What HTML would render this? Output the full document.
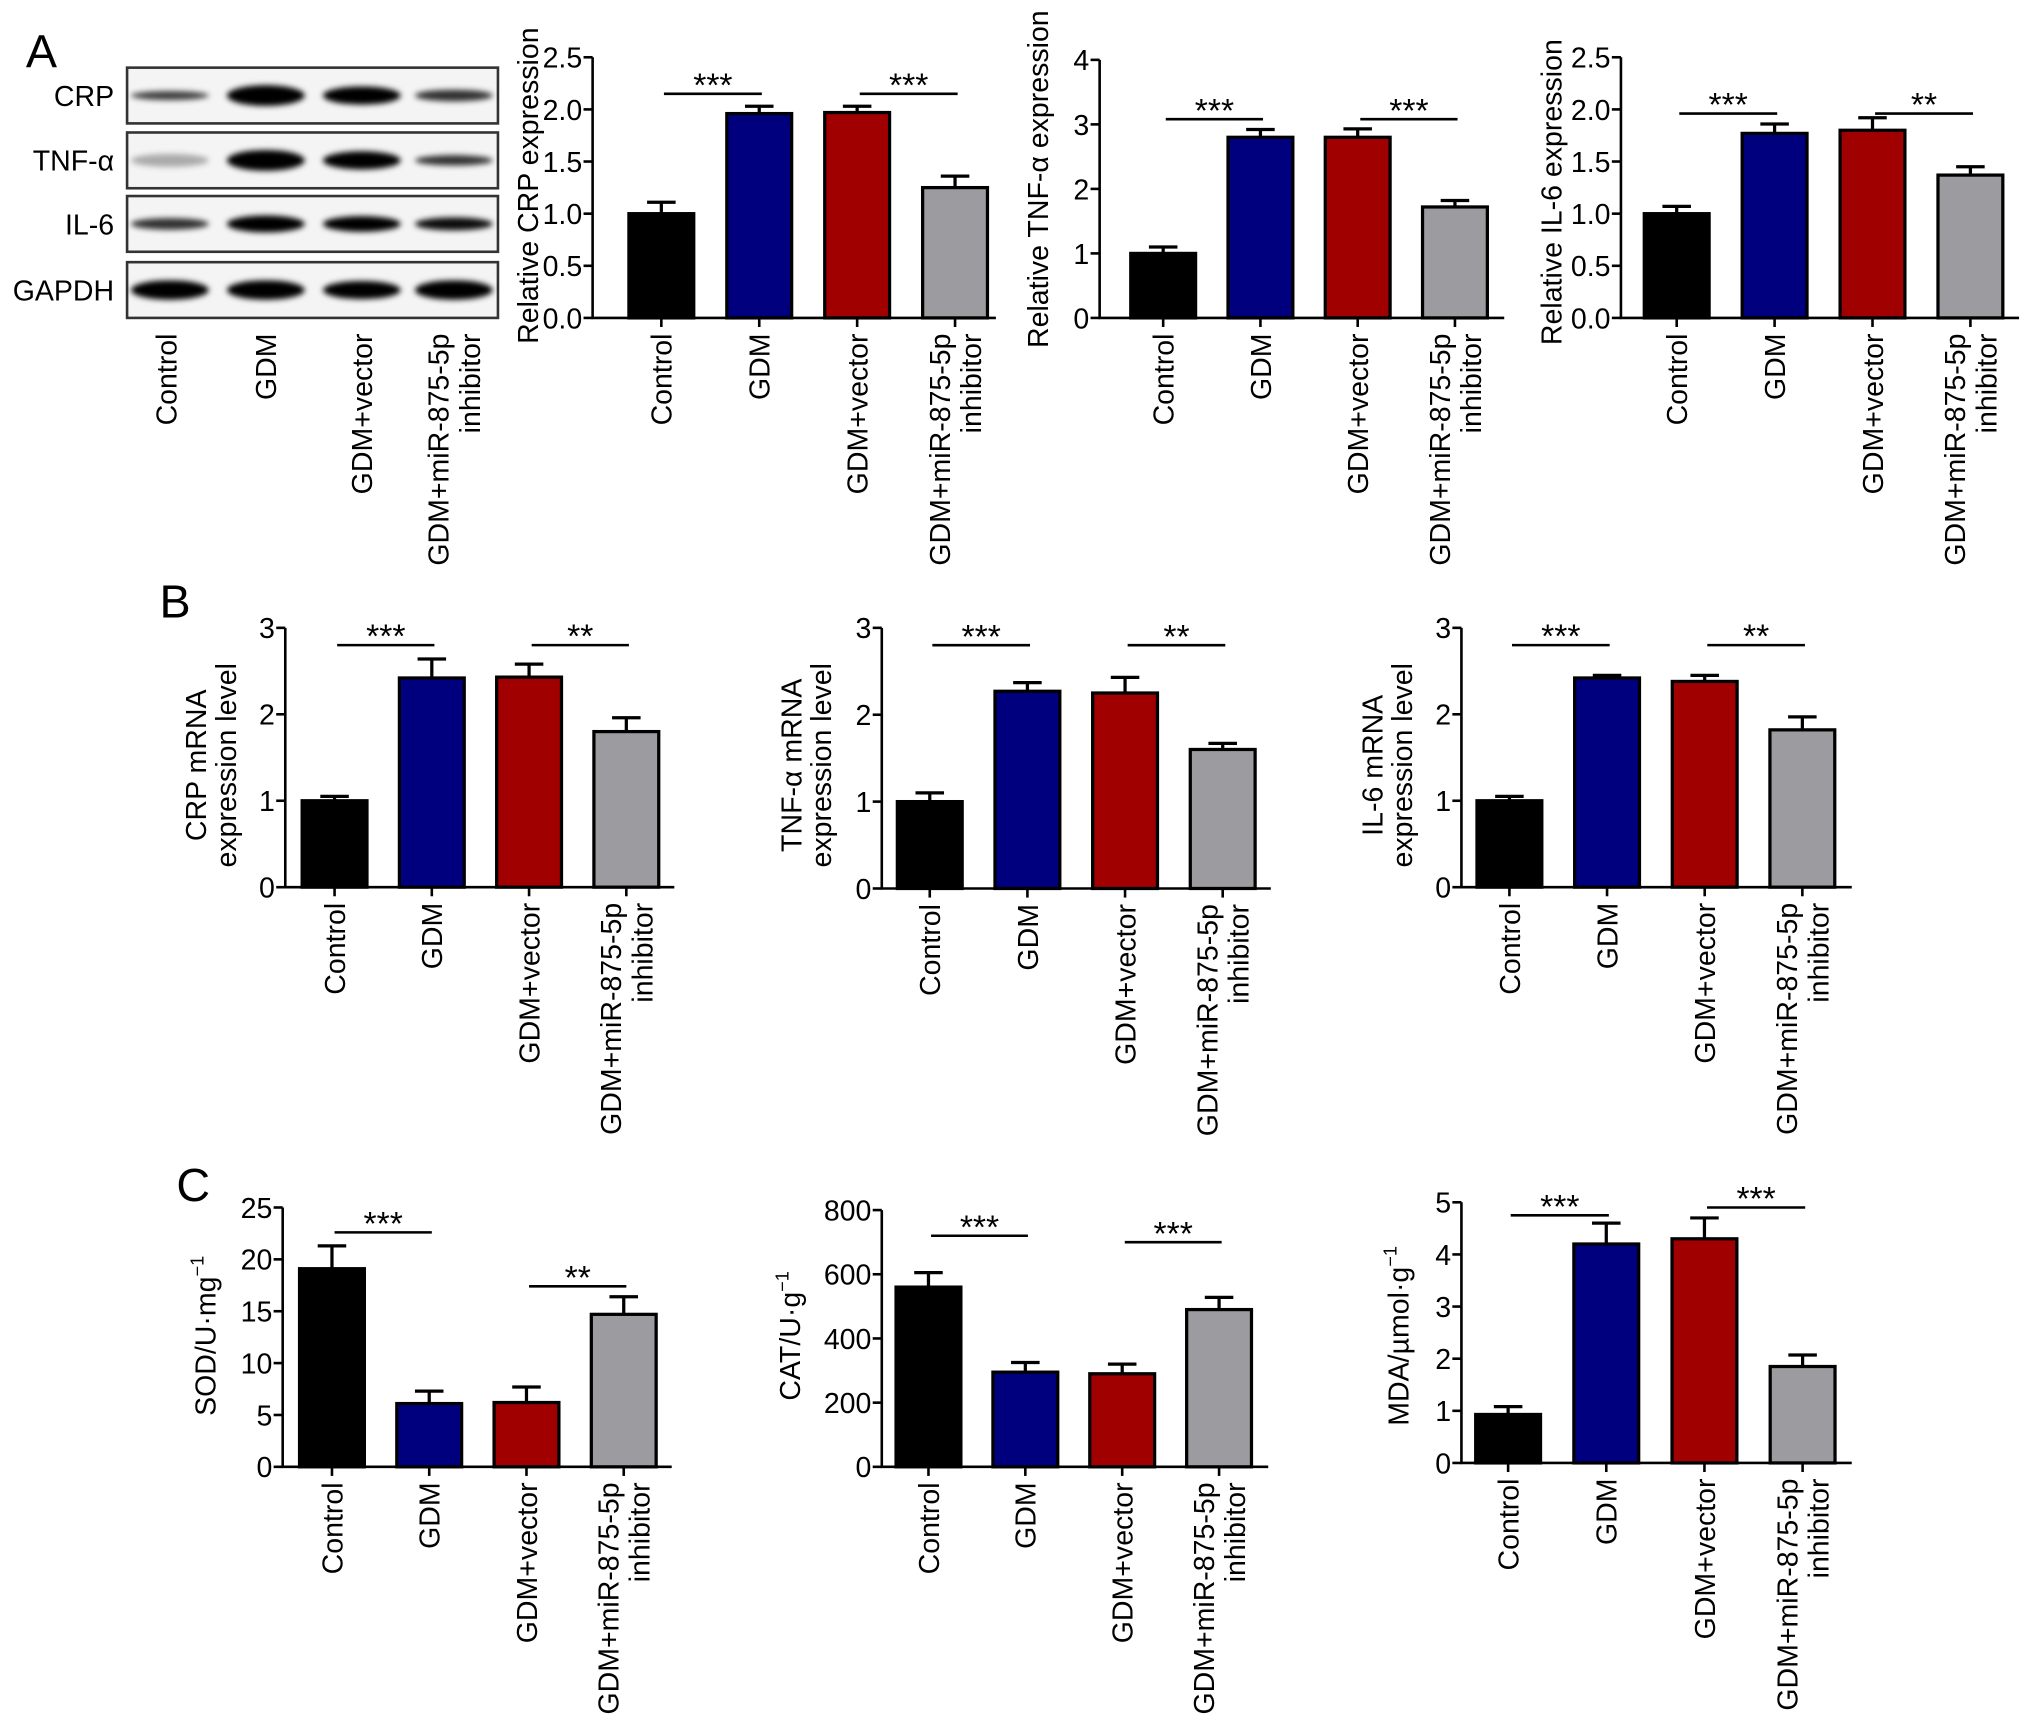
<!DOCTYPE html>
<html><head><meta charset="utf-8"><style>
html,body{margin:0;padding:0;background:#fff;}
svg{display:block;font-family:"Liberation Sans",Arial,sans-serif;}
</style></head><body>
<svg id="fig" width="2032" height="1729" viewBox="0 0 1567 1333" xmlns="http://www.w3.org/2000/svg">
<defs><filter id="blur" x="-30%" y="-100%" width="160%" height="300%"><feGaussianBlur stdDeviation="2.2"/></filter></defs>
<g id="blot"></g>
</svg>
<script>
const categories = ["Control","GDM","GDM+vector","GDM+miR-875-5p"];
const colors = ["#000000","#00007f","#a00000","#9b9ba0"];

// A1 CRP protein
const a1Values = [1.0,1.96,1.97,1.25];
const a1Errors = [0.11,0.07,0.06,0.11];
const a1Ticks = ["0.0","0.5","1.0","1.5","2.0","2.5"];
const a1Sig = ["***","***"];
const a1SigY = [2.15,2.15];
// A2 TNF protein
const a2Values = [1.0,2.8,2.8,1.72];
const a2Errors = [0.1,0.12,0.13,0.1];
const a2Ticks = ["0","1","2","3","4"];
const a2Sig = ["***","***"];
const a2SigY = [3.08,3.08];
// A3 IL-6 protein
const a3Values = [1.0,1.77,1.8,1.37];
const a3Errors = [0.07,0.09,0.12,0.08];
const a3Ticks = ["0.0","0.5","1.0","1.5","2.0","2.5"];
const a3Sig = ["***","**"];
const a3SigY = [1.96,1.96];
// B mRNA
const b1Values = [1.0,2.42,2.43,1.8];
const b1Errors = [0.05,0.22,0.15,0.16];
const b2Values = [1.0,2.27,2.25,1.6];
const b2Errors = [0.1,0.1,0.18,0.07];
const b3Values = [1.0,2.42,2.38,1.82];
const b3Errors = [0.05,0.03,0.07,0.15];
const bTicks = ["0","1","2","3"];
const bSig = ["***","**"];
const bSigY = [2.8,2.8];
// C oxidative
const c1Values = [19.1,6.1,6.2,14.7];
const c1Errors = [2.2,1.2,1.5,1.7];
const c1Ticks = ["0","5","10","15","20","25"];
const c1Sig = ["***","**"];
const c1SigY = [22.6,17.4];
const c2Values = [560,295,290,490];
const c2Errors = [45,30,30,38];
const c2Ticks = ["0","200","400","600","800"];
const c2Sig = ["***","***"];
const c2SigY = [720,700];
const c3Values = [0.93,4.2,4.3,1.85];
const c3Errors = [0.15,0.4,0.4,0.22];
const c3Ticks = ["0","1","2","3","4","5"];
const c3Sig = ["***","***"];
const c3SigY = [4.75,4.9];

const NS="http://www.w3.org/2000/svg";
const svg=document.getElementById('fig');
function mk(tag,attrs,parent){const e=document.createElementNS(NS,tag);for(const k in attrs)e.setAttribute(k,attrs[k]);(parent||svg).appendChild(e);return e;}

function xLabels(g,centers,y0,name){
  centers.forEach((cx,i)=>{
    if(i<3){
      const t=mk('text',{transform:`translate(${cx+8},${y0+12}) rotate(-90)`,'text-anchor':'end','font-size':22},g);
      t.textContent=categories[i];
      
      
    } else {
      const t=mk('text',{transform:`translate(${cx-4},${y0+12}) rotate(-90)`,'text-anchor':'end','font-size':22},g);
      t.textContent=categories[3];
      
      
      const t2=mk('text',{transform:`translate(${cx+20},${y0+12}) rotate(-90)`,'text-anchor':'end','font-size':22},g);
      t2.textContent="inhibitor";
      
      
    }
  });
}

function chart(o){
  const g=mk('g',{});
  
  
  const ticks=o.ticks.map(Number);
  const ymax=ticks[ticks.length-1];
  const yS=v=>o.y0-(v/ymax)*(o.y0-o.ytop);
  const xS=i=>o.x0+o.first+i*o.step;
  const bw=50;
  o.values.forEach((v,i)=>{
    const cx=xS(i);
    const top=yS(v+o.errors[i]);
    const l=mk('line',{x1:cx,x2:cx,y1:yS(v),y2:top,stroke:'#000','stroke-width':2.5},g);
    
    
    const c=mk('line',{x1:cx-11,x2:cx+11,y1:top,y2:top,stroke:'#000','stroke-width':2.5},g);
    
    
    const r=mk('rect',{x:cx-bw/2,y:yS(v),width:bw,height:o.y0-yS(v),fill:colors[i],stroke:'#000','stroke-width':2.5},g);
    
    
  });
  const ax=mk('path',{d:`M${o.x0},${o.ytop} V${o.y0} H${o.x1}`,fill:'none',stroke:'#000','stroke-width':2},g);
  
  
  o.ticks.forEach((t,k)=>{
    const y=yS(ticks[k]);
    mk('line',{x1:o.x0-7,x2:o.x0,y1:y,y2:y,stroke:'#000','stroke-width':2},g);
    const tx=mk('text',{x:o.x0-8,y:y+8,'text-anchor':'end','font-size':22},g);
    tx.textContent=t;
    
    
  });
  o.values.forEach((v,i)=>{mk('line',{x1:xS(i),x2:xS(i),y1:o.y0,y2:o.y0+7,stroke:'#000','stroke-width':2},g);});
  xLabels(g,o.values.map((v,i)=>xS(i)),o.y0,o.name);
  [[0,1],[2,3]].forEach((p,k)=>{
    const y=yS(o.sigY[k]);
    const a=xS(p[0])+2,b=xS(p[1])+2;
    const l=mk('line',{x1:a,x2:b,y1:y,y2:y,stroke:'#000','stroke-width':2},g);
    
    
    const s=mk('text',{x:(a+b)/2,y:y+2,'text-anchor':'middle','font-size':26},g);
    s.textContent=o.sig[k];
    
    
  });
  o.title.forEach((line,k)=>{
    const t=mk('text',{transform:`translate(${o.titleX+k*23},${o.titleY}) rotate(-90)`,'text-anchor':'middle','font-size':22},g);
    t.innerHTML=line;
    
    
  });
}

chart({name:'chart-a-crp',values:a1Values,errors:a1Errors,ticks:a1Ticks,sig:a1Sig,sigY:a1SigY,x0:457,x1:768,y0:245,ytop:44,first:53,step:75.5,title:['Relative CRP expression'],titleX:415,titleY:143});
chart({name:'chart-a-tnf',values:a2Values,errors:a2Errors,ticks:a2Ticks,sig:a2Sig,sigY:a2SigY,x0:848,x1:1160,y0:245,ytop:46,first:49,step:75,title:['Relative TNF-α expression'],titleX:808,titleY:138});
chart({name:'chart-a-il6',values:a3Values,errors:a3Errors,ticks:a3Ticks,sig:a3Sig,sigY:a3SigY,x0:1250,x1:1557,y0:245,ytop:44,first:43,step:75.5,title:['Relative IL-6 expression'],titleX:1204,titleY:148});
chart({name:'chart-b-crp',values:b1Values,errors:b1Errors,ticks:bTicks,sig:bSig,sigY:bSigY,x0:220,x1:520,y0:684,ytop:484,first:38,step:75,title:['CRP mRNA','expression level'],titleX:159,titleY:590});
chart({name:'chart-b-tnf',values:b2Values,errors:b2Errors,ticks:bTicks,sig:bSig,sigY:bSigY,x0:680,x1:980,y0:685,ytop:484,first:37,step:75.3,title:['TNF-α mRNA','expression level'],titleX:618,titleY:590});
chart({name:'chart-b-il6',values:b3Values,errors:b3Errors,ticks:bTicks,sig:bSig,sigY:bSigY,x0:1127,x1:1428,y0:684,ytop:484,first:37,step:75.3,title:['IL-6 mRNA','expression level'],titleX:1066,titleY:590});
chart({name:'chart-c-sod',values:c1Values,errors:c1Errors,ticks:c1Ticks,sig:c1Sig,sigY:c1SigY,x0:218,x1:518,y0:1131,ytop:931,first:38,step:75,title:['SOD/U·mg<tspan dy="-9" font-size="14">−1</tspan>'],titleX:166,titleY:1030});
chart({name:'chart-c-cat',values:c2Values,errors:c2Errors,ticks:c2Ticks,sig:c2Sig,sigY:c2SigY,x0:680,x1:978,y0:1131,ytop:933,first:36,step:74.7,title:['CAT/U·g<tspan dy="-9" font-size="14">−1</tspan>'],titleX:617,titleY:1030});
chart({name:'chart-c-mda',values:c3Values,errors:c3Errors,ticks:c3Ticks,sig:c3Sig,sigY:c3SigY,x0:1127,x1:1428,y0:1128,ytop:927,first:36,step:75.7,title:['MDA/µmol·g<tspan dy="-9" font-size="14">−1</tspan>'],titleX:1086,titleY:1030});

const blotRows=["CRP","TNF-α","IL-6","GAPDH"];
const blotIntensity=[[0.75,1,1,0.8],[0.3,1,1,0.8],[0.8,1,1,0.95],[1,1,1,1]];
const blotThick=[[5,14,12,7],[8,14,12,6],[7,11,10,8],[13,13,12,13]];
const rowTops=[52,102,151,202],rowBots=[95,145,194,245];
const lanes=[131,205,279,350];
const bg=document.getElementById('blot');
blotRows.forEach((r,k)=>{
  const rc=mk('rect',{x:98,y:rowTops[k],width:286,height:rowBots[k]-rowTops[k],fill:'#f4f4f4',stroke:'#333','stroke-width':2},bg);
  
  
  const cy=(rowTops[k]+rowBots[k])/2;
  lanes.forEach((lx,i)=>{
    const e=mk('ellipse',{cx:lx,cy:cy,rx:30,ry:blotThick[k][i]/2+1,fill:'#000','fill-opacity':blotIntensity[k][i],filter:'url(#blur)'},bg);
    
    
  });
  const t=mk('text',{x:88,y:cy+8,'text-anchor':'end','font-size':22},bg);
  t.textContent=r;
  
  
});
xLabels(bg,[128,205,279,350],245,'blot');

[["A",20,52],["B",123,476],["C",136,926]].forEach(p=>{
  const t=mk('text',{x:p[1],y:p[2],'font-size':36});
  t.textContent=p[0];
  
  
});
</script>
</body></html>
